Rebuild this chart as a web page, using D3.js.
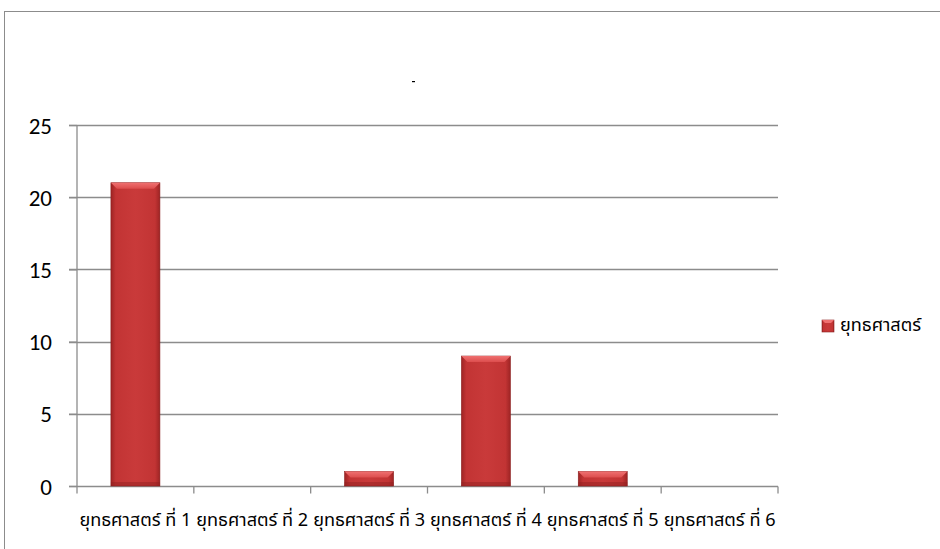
<!DOCTYPE html>
<html>
<head>
<meta charset="utf-8">
<script src="https://cdn.jsdelivr.net/npm/d3@7/dist/d3.min.js"></script>
<style>
  body { margin: 0; background: #fff; }
  svg { display: block; }
</style>
</head>
<body>
<svg id="chart" width="940" height="549"></svg>
<script>
// data
var categories = ["ยุทธศาสตร์ ที่ 1", "ยุทธศาสตร์ ที่ 2", "ยุทธศาสตร์ ที่ 3",
                  "ยุทธศาสตร์ ที่ 4", "ยุทธศาสตร์ ที่ 5", "ยุทธศาสตร์ ที่ 6"];
var values = [21, 0, 1, 9, 1, 0];
var seriesName = "ยุทธศาสตร์";
var yTicks = [0, 5, 10, 15, 20, 25];

var svg = d3.select("#chart");
var thaiFont = "Tahoma, 'Noto Sans Thai', Loma, Garuda, 'Liberation Sans', Arial, sans-serif";

// outer frame (right & bottom run off the picture)
svg.append("rect")
  .attr("x", 4.5).attr("y", 11.5)
  .attr("width", 960).attr("height", 560)
  .attr("fill", "none").attr("stroke", "#8c8c8c").attr("stroke-width", 1);

// tiny title mark
svg.append("rect").attr("x", 412).attr("y", 81).attr("width", 3).attr("height", 1.2).attr("fill", "#000");

var x0 = 77, x1 = 778, yTop = 125, yBot = 486;

var x = d3.scaleBand().domain(categories).range([x0, x1]).paddingInner(0).paddingOuter(0);
var y = d3.scaleLinear().domain([0, 25]).range([yBot, yTop]);

// defs for bevelled bars
var defs = svg.append("defs");
var g1 = defs.append("linearGradient").attr("id", "body").attr("x1", 0).attr("x2", 1).attr("y1", 0).attr("y2", 0);
g1.append("stop").attr("offset", "0%").attr("stop-color", "#9e2424");
g1.append("stop").attr("offset", "10%").attr("stop-color", "#c23434");
g1.append("stop").attr("offset", "50%").attr("stop-color", "#c93a3a");
g1.append("stop").attr("offset", "90%").attr("stop-color", "#c23434");
g1.append("stop").attr("offset", "100%").attr("stop-color", "#9e2424");
var g2 = defs.append("linearGradient").attr("id", "bevel").attr("x1", 0).attr("x2", 0).attr("y1", 0).attr("y2", 1);
g2.append("stop").attr("offset", "0%").attr("stop-color", "#ef7070");
g2.append("stop").attr("offset", "100%").attr("stop-color", "#dc4d4d");

// gridlines
svg.append("g").selectAll("line").data(yTicks.filter(function(d){ return d > 0; }))
  .enter().append("line")
  .attr("x1", x0 - 8).attr("x2", x1)
  .attr("y1", function(d){ return Math.round(y(d)) + 0.5; })
  .attr("y2", function(d){ return Math.round(y(d)) + 0.5; })
  .attr("stroke", "#8c8c8c").attr("stroke-width", 1.3);

// y axis
var yAxis = d3.axisLeft(y).tickValues(yTicks).tickSize(8).tickPadding(20)
  .tickFormat(d3.format("d"));
var ya = svg.append("g").attr("transform", "translate(" + x0 + ",0)").call(yAxis);
ya.select(".domain").attr("stroke", "#8c8c8c").attr("stroke-width", 1.3).attr("d", "M0," + yTop + "V" + yBot);
ya.selectAll(".tick line").attr("stroke", "#8c8c8c").attr("stroke-width", 1.3);
ya.selectAll(".tick text").attr("font-family", "Carlito, Calibri, 'Liberation Sans', Arial, sans-serif")
  .attr("font-size", 23).attr("fill", "#000").attr("x", -25).attr("dy", "0.35em");

// x axis
var xa = svg.append("g").attr("transform", "translate(0," + (Math.round(yBot) + 0.5) + ")");
xa.append("line").attr("x1", x0 - 8).attr("x2", x1).attr("stroke", "#8c8c8c").attr("stroke-width", 1.3);
var bounds = categories.map(function(c){ return x(c); }).concat([x1]);
xa.selectAll(".tk").data(bounds).enter().append("line").attr("class", "tk")
  .attr("x1", function(d){ return d; }).attr("x2", function(d){ return d; })
  .attr("y1", 0).attr("y2", 7).attr("stroke", "#8c8c8c").attr("stroke-width", 1.3);
var xl = xa.selectAll("text").data(categories).enter().append("text")
  .attr("x", function(d){ return x(d) + x.bandwidth() / 2; })
  .attr("y", 39)
  .attr("text-anchor", "middle")
  .attr("font-family", thaiFont)
  .attr("font-size", 16).attr("fill", "#000")
  .text(function(d){ return d; });
// size the labels so each one spans about 112px like the reference
var w0 = xl.node().getComputedTextLength();
if (w0 > 0) xl.attr("font-size", Math.min(19, 16 * 112 / w0));

// bars
var bw = 49;
var bars = svg.append("g").selectAll("g").data(values.map(function(v, i){ return {c: categories[i], v: v}; }).filter(function(d){ return d.v > 0; }))
  .enter().append("g");
bars.append("rect")
  .attr("x", function(d){ return x(d.c) + x.bandwidth() / 2 - bw / 2; })
  .attr("y", function(d){ return y(d.v); })
  .attr("width", bw)
  .attr("height", function(d){ return yBot - y(d.v); })
  .attr("fill", "url(#body)")
  .attr("stroke", "#8a1f1f").attr("stroke-width", 0.6);
bars.append("path")
  .attr("d", function(d){
    var l = x(d.c) + x.bandwidth() / 2 - bw / 2, r = l + bw, t = y(d.v), b = 6;
    return "M" + l + "," + t + "L" + r + "," + t + "L" + (r - b) + "," + (t + b) + "L" + (l + b) + "," + (t + b) + "Z";
  })
  .attr("fill", "url(#bevel)");
bars.append("rect")
  .attr("x", function(d){ return x(d.c) + x.bandwidth() / 2 - bw / 2; })
  .attr("y", yBot - 4).attr("width", bw).attr("height", 4)
  .attr("fill", "#8f2020").attr("opacity", 0.45);

// legend
var lg = svg.append("g").attr("transform", "translate(822,320)");
lg.append("rect").attr("width", 12).attr("height", 12).attr("fill", "url(#body)").attr("stroke", "#8a1f1f").attr("stroke-width", 0.6);
lg.append("path").attr("d", "M0,0L12,0L9,3L3,3Z").attr("fill", "#ef7070");
lg.append("text").attr("x", 18).attr("y", 11)
  .attr("font-family", thaiFont)
  .attr("font-size", xl.attr("font-size")).attr("fill", "#000").text(seriesName);
</script>
</body>
</html>
